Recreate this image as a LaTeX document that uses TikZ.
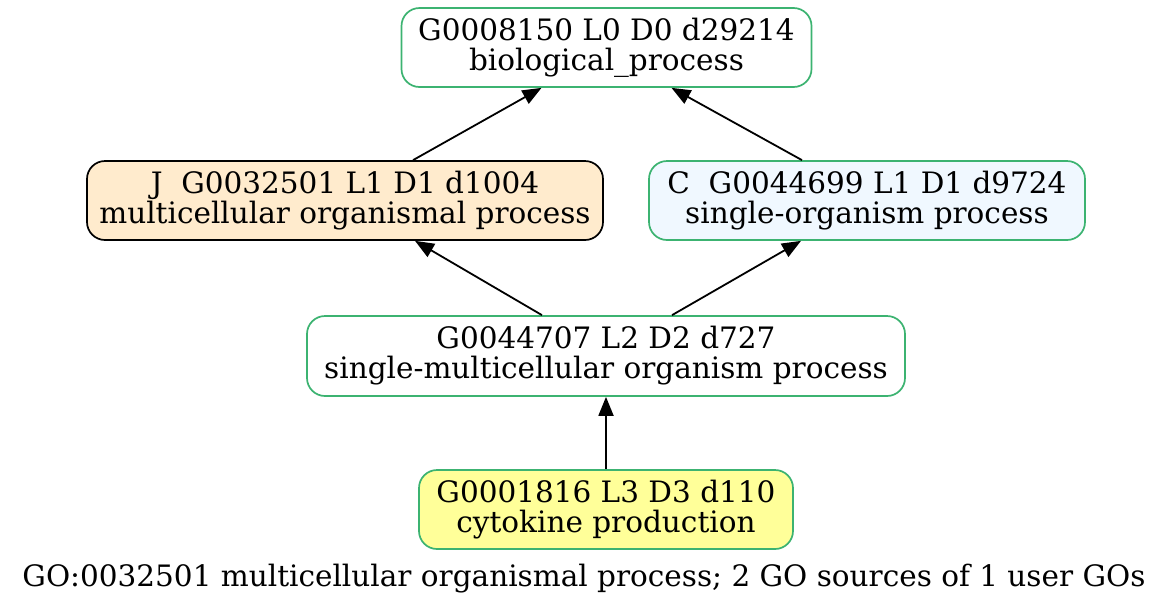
\documentclass[tikz,border=0pt]{standalone}
\usepackage{fontspec}
\setmainfont{DejaVu Serif}
\usetikzlibrary{arrows.meta}
\definecolor{gogreen}{HTML}{3CB371}
\definecolor{jfill}{HTML}{FFEBCD}
\definecolor{cfill}{HTML}{F0F8FF}
\definecolor{yfill}{HTML}{FFFF99}
\tikzset{
  gobox/.style={draw=gogreen, line width=1.7pt, rounded corners=18pt, align=center, inner sep=0pt,
    font=\fontsize{29.5}{30}\selectfont, minimum height=79pt},
  goedge/.style={line width=1.8pt, -{Triangle[length=19pt,width=15pt]}},
}
\begin{document}
\begin{tikzpicture}[x=1pt,y=-1pt]
\useasboundingbox (0,0) rectangle (1171,606);
\fill[white] (0,0) rectangle (1171,606);
\node[gobox, fill=white, minimum width=410pt] (top) at (606.5,47.5) {G0008150 L0 D0 d29214\\biological\_process};
\node[gobox, draw=black, fill=jfill, minimum width=516pt] (J) at (345,200.5) {J\ \ G0032501 L1 D1 d1004\\multicellular organismal process};
\node[gobox, fill=cfill, minimum width=436pt] (C) at (867,200.5) {C\ \ G0044699 L1 D1 d9724\\single-organism process};
\node[gobox, fill=white, minimum width=598pt, minimum height=80pt] (mid) at (606,356) {G0044707 L2 D2 d727\\single-multicellular organism process};
\node[gobox, fill=yfill, minimum width=374pt] (bot) at (606,509.5) {G0001816 L3 D3 d110\\cytokine production};
\node[anchor=base, inner sep=0pt, font=\fontsize{29.5}{30}\selectfont] (cap) at (584,586) {GO:0032501 multicellular organismal process; 2 GO sources of 1 user GOs};
\draw[goedge] ([xshift=68pt]J.north) -- ([xshift=-65pt]top.south);
\draw[goedge] ([xshift=-65pt]C.north) -- ([xshift=65pt]top.south);
\draw[goedge] ([xshift=-64pt]mid.north) -- ([xshift=70pt]J.south);
\draw[goedge] ([xshift=66pt]mid.north) -- ([xshift=-66pt]C.south);
\draw[goedge] (bot.north) -- (mid.south);
\end{tikzpicture}
\end{document}
